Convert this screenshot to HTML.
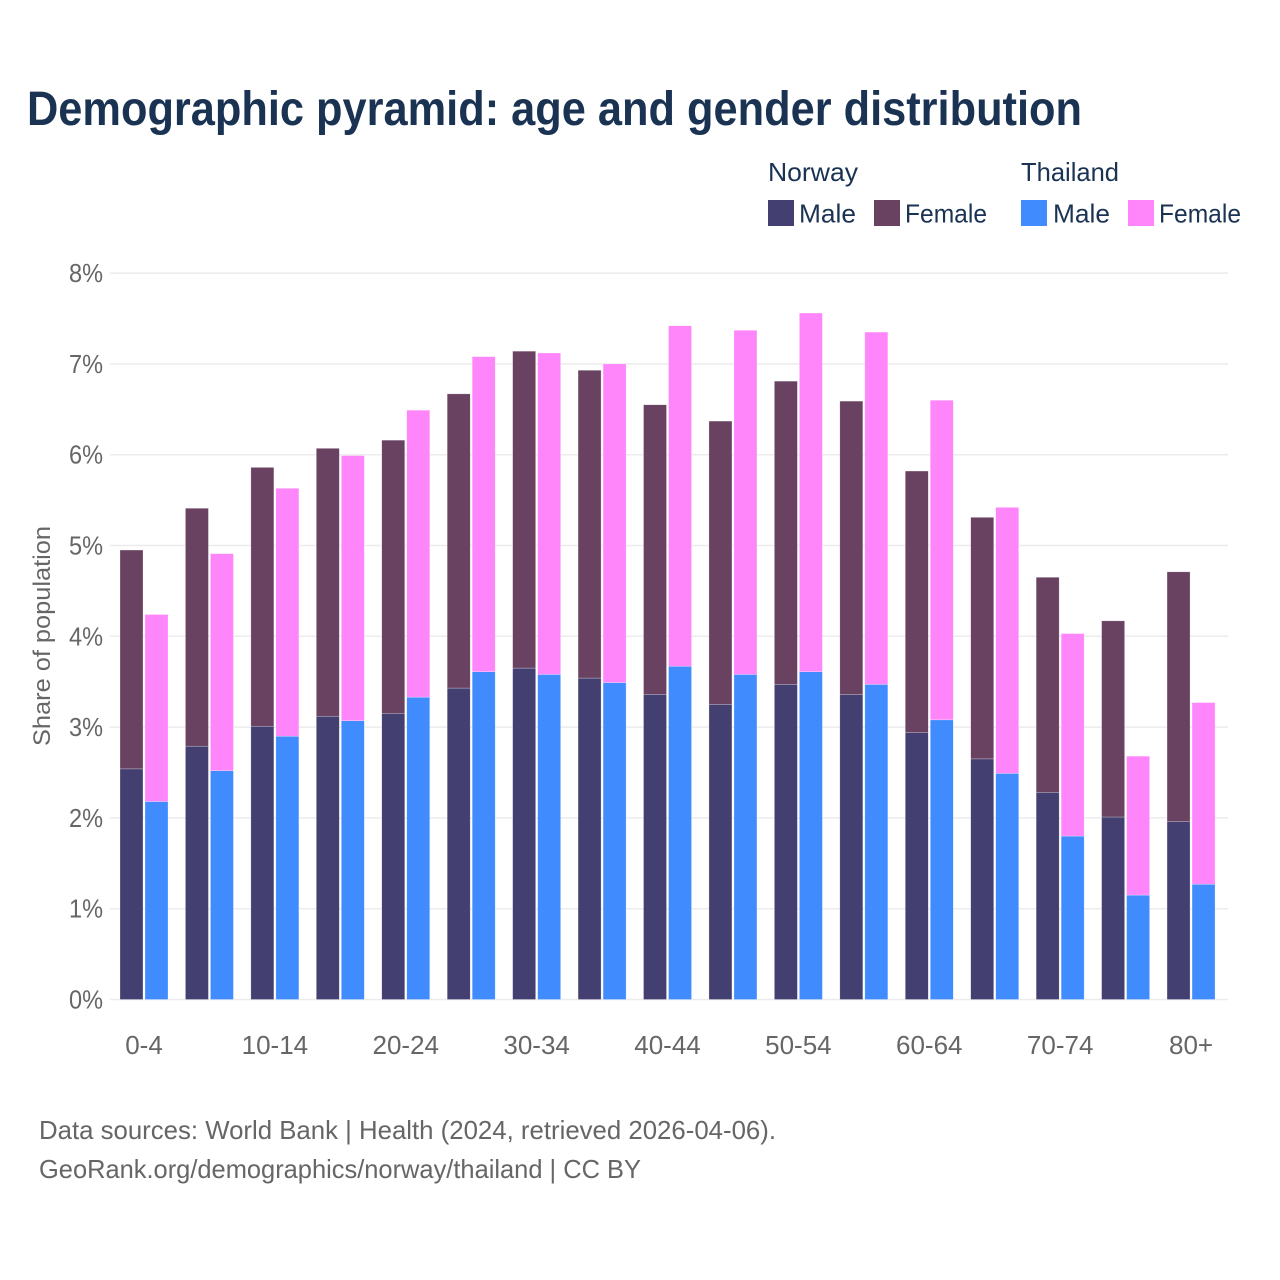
<!DOCTYPE html>
<html lang="en">
<head>
<meta charset="utf-8">
<title>Demographic pyramid</title>
<style>
html,body{margin:0;padding:0;background:#fff;width:1280px;height:1280px;overflow:hidden}
svg{display:block}
text{font-family:"Liberation Sans",Arial,sans-serif}
</style>
</head>
<body>
<svg id="chart" xmlns="http://www.w3.org/2000/svg" width="1280" height="1280" viewBox="0 0 1280 1280">
  <rect x="0" y="0" width="1280" height="1280" fill="#fff"/>
  <text x="27" y="125" font-size="48" font-weight="700" fill="#1a3353" textLength="1055" lengthAdjust="spacingAndGlyphs">Demographic pyramid: age and gender distribution</text>

  <g font-size="26" fill="#1a3353">
    <text x="768" y="181" textLength="90" lengthAdjust="spacingAndGlyphs">Norway</text>
    <text x="1021" y="181" textLength="98" lengthAdjust="spacingAndGlyphs">Thailand</text>
    <rect x="768" y="200" width="26" height="26" fill="#433f71"/>
    <text x="799" y="222.5" textLength="57" lengthAdjust="spacingAndGlyphs">Male</text>
    <rect x="874" y="200" width="26" height="26" fill="#694261"/>
    <text x="905" y="222.5" textLength="82" lengthAdjust="spacingAndGlyphs">Female</text>
    <rect x="1021" y="200" width="26" height="26" fill="#408cff"/>
    <text x="1053" y="222.5" textLength="57" lengthAdjust="spacingAndGlyphs">Male</text>
    <rect x="1128" y="200" width="26" height="26" fill="#ff85fa"/>
    <text x="1159" y="222.5" textLength="82" lengthAdjust="spacingAndGlyphs">Female</text>
  </g>

  <g id="grid"></g>
  <g id="yticks"></g>
  <g id="bars"></g>
  <g id="xticks"></g>

  <text transform="translate(50,636) rotate(-90)" text-anchor="middle" font-size="24.5" fill="#666" textLength="220" lengthAdjust="spacingAndGlyphs">Share of population</text>

  <text x="39" y="1139" font-size="26" fill="#666" textLength="737" lengthAdjust="spacingAndGlyphs">Data sources: World Bank | Health (2024, retrieved 2026-04-06).</text>
  <text x="39" y="1178" font-size="26" fill="#666" textLength="602" lengthAdjust="spacingAndGlyphs">GeoRank.org/demographics/norway/thailand | CC BY</text>
</svg>
<script>
const categories = ["0-4","5-9","10-14","15-19","20-24","25-29","30-34","35-39","40-44","45-49","50-54","55-59","60-64","65-69","70-74","75-79","80+"];
const yTickValues = [0,1,2,3,4,5,6,7,8];
const norwayMale = [2.54,2.79,3.01,3.12,3.15,3.43,3.65,3.54,3.36,3.25,3.47,3.36,2.94,2.65,2.28,2.01,1.96];
const norwayFemale = [2.41,2.62,2.85,2.95,3.01,3.24,3.49,3.39,3.19,3.12,3.34,3.23,2.88,2.66,2.37,2.16,2.75];
const thailandMale = [2.18,2.52,2.90,3.07,3.33,3.61,3.58,3.49,3.67,3.58,3.61,3.47,3.08,2.49,1.80,1.15,1.27];
const thailandFemale = [2.06,2.39,2.73,2.92,3.16,3.47,3.54,3.51,3.75,3.79,3.95,3.88,3.52,2.93,2.23,1.53,2.00];

const NS = "http://www.w3.org/2000/svg";
function yScale(v){ return 999.5 - v * 90.8; }
function xScale(i){ return 144 + i * 65.44; }
function make(tag, attrs, parent, text){
  const el = document.createElementNS(NS, tag);
  for (const k in attrs) el.setAttribute(k, attrs[k]);
  if (text !== undefined) el.textContent = text;
  parent.appendChild(el);
  return el;
}
const grid = document.getElementById("grid");
const yticks = document.getElementById("yticks");
const xticks = document.getElementById("xticks");
const bars = document.getElementById("bars");

yTickValues.forEach(function(v){
  const line = make("line", {x1:110, x2:1228, y1:yScale(v), y2:yScale(v), stroke:"#ececec", "stroke-width":1.5}, grid);
  
  
  const label = make("text", {x:103, y:yScale(v)+9, "text-anchor":"end", "font-size":26, fill:"#666", textLength:34, lengthAdjust:"spacingAndGlyphs"}, yticks, v + "%");
  
  
});

categories.forEach(function(c, i){
  if (i % 2 === 0) {
    const label = make("text", {x:xScale(i), y:1054, "text-anchor":"middle", "font-size":26, fill:"#666"}, xticks, c);
    
    
  }
  const cx = xScale(i);
  const groups = [
    {x:cx-24, m:norwayMale[i], f:norwayFemale[i], mc:"#433f71", fc:"#694261"},
    {x:cx+1, m:thailandMale[i], f:thailandFemale[i], mc:"#408cff", fc:"#ff85fa"}
  ];
  groups.forEach(function(g){
    const my = yScale(g.m);
    const ty = yScale(g.m + g.f);
    const maleBar = make("rect", {x:g.x, y:my, width:23, height:yScale(0)-my, fill:g.mc, stroke:"#fff", "stroke-width":0.5, "stroke-opacity":0.5}, bars);
    
    
    const femaleBar = make("rect", {x:g.x, y:ty, width:23, height:my-ty, fill:g.fc, stroke:"#fff", "stroke-width":0.5, "stroke-opacity":0.5}, bars);
    
    
  });
});
</script>
</body>
</html>
